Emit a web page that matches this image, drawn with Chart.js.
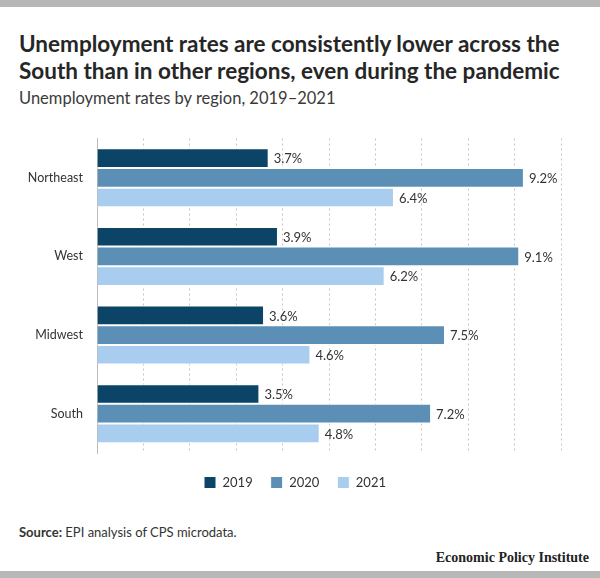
<!DOCTYPE html>
<html>
<head>
<meta charset="utf-8">
<script src="https://cdn.jsdelivr.net/npm/chart.js@4.4.0/dist/chart.umd.min.js"></script>
<style>
  body { margin: 0; background: #fff; font-family: Lato, "Open Sans", sans-serif; }
  #page { position: relative; width: 600px; height: 578px; overflow: hidden; background: #fff; }
  .bar { position: absolute; left: 0; width: 600px; height: 7px; background: #b7b7b7; }
  #title { position: absolute; left: 19px; top: 30px; margin: 0; font-size: 22.5px; line-height: 27px; font-weight: 700; color: #262626; }
  #subtitle { position: absolute; left: 19px; top: 88px; font-size: 16.5px; color: #3a3a3a; }
  #wrap { position: absolute; left: 0; top: 117px; width: 600px; height: 388px; }
  #source { position: absolute; left: 19px; top: 524px; font-size: 13px; color: #333; }
  #logo { position: absolute; right: 11px; top: 550px; font-family: "Liberation Serif", serif; font-weight: 700; font-size: 14px; color: #222; }
</style>
</head>
<body>
<div id="page">
  <div class="bar" style="top:0"></div>
  <h1 id="title">Unemployment rates are consistently lower across the<br>South than in other regions, even during the pandemic</h1>
  <div id="subtitle">Unemployment rates by region, 2019–2021</div>
  <div id="wrap"><canvas id="chart"></canvas></div>
  <div id="source"><b>Source:</b> EPI analysis of CPS microdata.</div>
  <div id="logo">Economic Policy Institute</div>
  <div class="bar" style="top:571px"></div>
</div>
<script>
// --- data ---
const regions = ['Northeast', 'West', 'Midwest', 'South'];
const rates2019 = [3.7, 3.9, 3.6, 3.5];
const rates2020 = [9.2, 9.1, 7.5, 7.2];
const rates2021 = [6.4, 6.2, 4.6, 4.8];
const seriesNames = ['2019', '2020', '2021'];
const seriesColors = ['#0b4466', '#5b8fb5', '#a9cdee'];

// value labels drawn at the end of each bar
const valueLabels = {
    id: 'valueLabels',
    afterDatasetsDraw(chart) {
        const ctx = chart.ctx;
        ctx.save();
        ctx.font = '13px Lato, sans-serif';
        ctx.fillStyle = '#333';
        ctx.textAlign = 'left';
        ctx.textBaseline = 'middle';
        chart.data.datasets.forEach((ds, i) => {
            chart.getDatasetMeta(i).data.forEach((bar, j) => {
                ctx.fillText(ds.data[j].toFixed(1) + '%', bar.x + 5, bar.y + 1);
            });
        });
        ctx.restore();
    }
};

const datasets = [rates2019, rates2020, rates2021].map((vals, i) => ({
    label: seriesNames[i],
    data: vals,
    backgroundColor: seriesColors[i],
    borderColor: '#ffffff',
    borderWidth: 1,
    borderSkipped: 'start',
    categoryPercentage: 0.75,
    barPercentage: 1.0
}));

new Chart(document.getElementById('chart'), {
    type: 'bar',
    data: { labels: regions, datasets: datasets },
    plugins: [valueLabels],
    options: {
        indexAxis: 'y',
        responsive: true,
        maintainAspectRatio: false,
        animation: false,
        layout: { padding: { top: 19, right: 10, bottom: 6, left: 0 } },
        plugins: {
            tooltip: { enabled: false },
            legend: {
                position: 'bottom',
                labels: {
                    boxWidth: 12, boxHeight: 12, padding: 18,
                    color: '#333', font: { family: 'Lato', size: 13 }
                }
            }
        },
        scales: {
            x: {
                min: 0, max: 10,
                afterFit(scale) { scale.height = 5; },
                ticks: { display: false, stepSize: 1 },
                border: { display: false, dash: [2, 3] },
                grid: { color: '#c4c4c4', lineWidth: 1, drawTicks: false }
            },
            y: {
                afterFit(scale) { scale.width = 97; },
                ticks: { color: '#333', font: { family: 'Lato', size: 12.5 }, padding: 14 },
                grid: { display: false, drawTicks: false },
                border: { display: true, color: '#bbbbbb', width: 1 }
            },
            // empty right-hand axis: keeps the plot edge at 10% while the legend stays centred
            yRight: {
                type: 'category',
                position: 'right',
                afterFit(scale) { scale.width = 29; },
                ticks: { display: false },
                grid: { display: false, drawTicks: false },
                border: { display: false }
            }
        }
    }
});
</script>
</body>
</html>
